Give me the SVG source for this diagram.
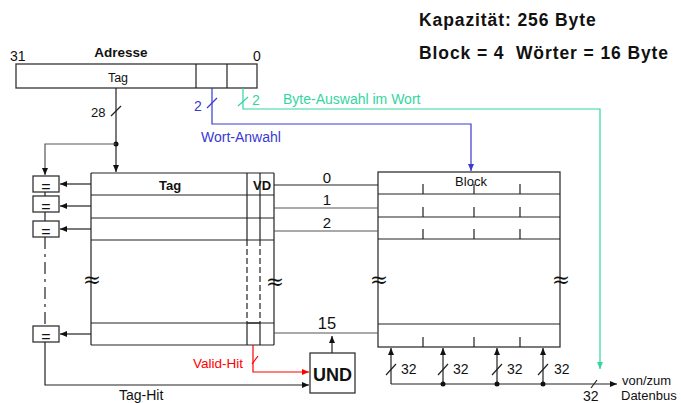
<svg xmlns="http://www.w3.org/2000/svg" width="681" height="403" viewBox="0 0 681 403">
<style>
text{font-family:"Liberation Sans",Arial,sans-serif;fill:#111}
.b{font-weight:bold}
.sym{font-family:"DejaVu Serif",serif;font-size:22px}
.ln{stroke:#222;stroke-width:1.2;fill:none}
.g{stroke:#555;stroke-width:1.2;fill:none}
.box{stroke:#333;stroke-width:1.3;fill:#fff}
.blue{stroke:#3a3ad0;stroke-width:1.2;fill:none}
.green{stroke:#33d6a0;stroke-width:1.2;fill:none}
.red{stroke:#ff0000;stroke-width:1.2;fill:none}
.dash{stroke:#222;stroke-width:1.2;stroke-dasharray:6,3;fill:none}
</style>
<defs>
<marker id="ak" markerUnits="userSpaceOnUse" markerWidth="8" markerHeight="8" refX="7" refY="4" orient="auto"><path d="M0,1 L7,4 L0,7 Z" fill="#111"/></marker>
<marker id="abl" markerUnits="userSpaceOnUse" markerWidth="8" markerHeight="8" refX="7" refY="4" orient="auto"><path d="M0,1 L7,4 L0,7 Z" fill="#3a3ad0"/></marker>
<marker id="agr" markerUnits="userSpaceOnUse" markerWidth="8" markerHeight="8" refX="7" refY="4" orient="auto"><path d="M0,1 L7,4 L0,7 Z" fill="#33d6a0"/></marker>
<marker id="ard" markerUnits="userSpaceOnUse" markerWidth="8" markerHeight="8" refX="7" refY="4" orient="auto"><path d="M0,1 L7,4 L0,7 Z" fill="#ff0000"/></marker>
</defs>

<g id="title">
<text class="b" x="419" y="26" font-size="17.5" letter-spacing="0.9">Kapazität: 256 Byte</text>
<text class="b" x="419" y="59" font-size="17.5" letter-spacing="0.9" xml:space="preserve">Block = 4  Wörter = 16 Byte</text>
</g>

<g id="address">
<rect class="box" x="16" y="64" width="241" height="24"/>
<line class="ln" x1="196" y1="64" x2="196" y2="88"/>
<line class="ln" x1="227" y1="64" x2="227" y2="88"/>
<text x="10" y="61" font-size="14">31</text>
<text class="b" x="121" y="57" font-size="13.5" text-anchor="middle">Adresse</text>
<text x="253" y="61" font-size="14">0</text>
<text x="118" y="82" font-size="12.5" text-anchor="middle">Tag</text>
</g>

<g id="tag-array">
<rect x="91" y="173" width="183" height="172" fill="#fff" stroke="none"/>
<line class="ln" x1="91" y1="173" x2="274" y2="173"/>
<line class="ln" x1="91" y1="173" x2="91" y2="345"/>
<line class="ln" x1="274" y1="173" x2="274" y2="345"/>
<line class="ln" x1="91" y1="345" x2="274" y2="345"/>
<line class="ln" x1="91" y1="195" x2="274" y2="195" stroke-width="1.6"/>
<line class="ln" x1="91" y1="218" x2="274" y2="218"/>
<line class="ln" x1="91" y1="240" x2="274" y2="240"/>
<line class="ln" x1="91" y1="323" x2="274" y2="323"/>
<line class="ln" x1="247" y1="173" x2="247" y2="240"/>
<line class="ln" x1="260" y1="173" x2="260" y2="240"/>
<line class="dash" x1="247" y1="240" x2="247" y2="323"/>
<line class="dash" x1="260" y1="240" x2="260" y2="323"/>
<line class="ln" x1="247" y1="323" x2="247" y2="345"/>
<line class="ln" x1="260" y1="323" x2="260" y2="345"/>
<line class="ln" x1="247" y1="323" x2="260" y2="323" stroke-width="2"/>
<text class="b" x="170" y="190" font-size="13" text-anchor="middle">Tag</text>
<text class="b" x="253" y="190" font-size="13">VD</text>
<text class="sym" x="92" y="287" text-anchor="middle">≈</text>
<text class="sym" x="275" y="289" text-anchor="middle">≈</text>
</g>

<g id="block-array">
<rect class="box" x="378" y="172" width="182" height="175" fill="#fff"/>
<line class="ln" x1="378" y1="194" x2="560" y2="194"/>
<line class="ln" x1="378" y1="217" x2="560" y2="217" stroke-width="1.8"/>
<line class="ln" x1="378" y1="239" x2="560" y2="239"/>
<line class="ln" x1="378" y1="324" x2="560" y2="324"/>
<path class="ln" d="M423,184V194M474,184V194M520,184V194M423,207V217M474,207V217M520,207V217M423,229V239M474,229V239M520,229V239M423,337V347M474,337V347M520,337V347"/>
<text x="471" y="186" font-size="13" text-anchor="middle">Block</text>
<text class="sym" x="379" y="287" text-anchor="middle">≈</text>
<text class="sym" x="561" y="287" text-anchor="middle">≈</text>
</g>

<g id="comparators">
<rect class="box" x="33" y="176" width="26" height="16"/>
<rect class="box" x="33" y="196" width="26" height="16"/>
<rect class="box" x="33" y="221" width="26" height="16"/>
<rect class="box" x="33" y="326" width="26" height="16"/>
<text x="46" y="192" font-size="16" text-anchor="middle">=</text>
<text x="46" y="212" font-size="16" text-anchor="middle">=</text>
<text x="46" y="237" font-size="16" text-anchor="middle">=</text>
<text x="46" y="342" font-size="16" text-anchor="middle">=</text>
</g>

<g id="und">
<rect class="box" x="310" y="353" width="45" height="40"/>
<text class="b" x="332.5" y="381" font-size="18" text-anchor="middle">UND</text>
</g>

<g id="connectors">
<line class="ln" x1="116" y1="88" x2="116" y2="172" marker-end="url(#ak)"/>
<line class="ln" x1="111" y1="116" x2="121" y2="106"/>
<text x="91" y="117" font-size="13">28</text>
<circle cx="116" cy="144" r="2.5" fill="#111"/>
<path class="g" d="M116,144 H45 V175" marker-end="url(#ak)"/>
<line class="ln" x1="45" y1="192" x2="45" y2="196"/>
<line class="ln" x1="45" y1="212" x2="45" y2="221"/>
<line class="ln" x1="45" y1="237" x2="45" y2="326" stroke-dasharray="12,5,3,5"/>
<line class="ln" x1="91" y1="184" x2="60" y2="184" marker-end="url(#ak)"/>
<line class="ln" x1="91" y1="206" x2="60" y2="206" marker-end="url(#ak)"/>
<line class="ln" x1="91" y1="229" x2="60" y2="229" marker-end="url(#ak)"/>
<line class="ln" x1="91" y1="334" x2="60" y2="334" marker-end="url(#ak)"/>
<path class="ln" d="M45,342 V385 H309" marker-end="url(#ak)"/>
<text x="119" y="400" font-size="14">Tag-Hit</text>

<path class="blue" d="M212,88 V124 H471 V171" marker-end="url(#abl)"/>
<line class="blue" x1="207" y1="108" x2="217" y2="98"/>
<text x="194" y="111" font-size="14" style="fill:#3a3ad0">2</text>
<text x="201" y="142" font-size="14" style="fill:#3a3ad0">Wort-Anwahl</text>

<path class="green" d="M243,88 V109 H600 V369" marker-end="url(#agr)"/>
<line class="green" x1="238" y1="106" x2="248" y2="97"/>
<text x="252" y="105" font-size="14" style="fill:#33d6a0">2</text>
<text x="283" y="104" font-size="14" style="fill:#33d6a0">Byte-Auswahl im Wort</text>

<path class="red" d="M253,345 V372 H309" marker-end="url(#ard)"/>
<line class="red" x1="252" y1="364" x2="258" y2="356"/>
<text x="193" y="368" font-size="13.5" style="fill:#ff0000">Valid-Hit</text>

<line class="ln" x1="332" y1="353" x2="332" y2="336" marker-end="url(#ak)"/>

<line class="ln" x1="274" y1="185" x2="378" y2="185"/>
<line class="g" x1="274" y1="208" x2="378" y2="208"/>
<line class="g" x1="274" y1="231" x2="378" y2="231"/>
<line class="g" x1="274" y1="333" x2="378" y2="333"/>
<text x="327" y="183" font-size="15" text-anchor="middle">0</text>
<text x="327" y="205" font-size="15" text-anchor="middle">1</text>
<text x="327" y="228" font-size="15" text-anchor="middle">2</text>
<text x="327" y="329" font-size="16.5" text-anchor="middle">15</text>

<path class="ln" d="M391,384 H617" marker-end="url(#ak)"/>
<line class="ln" x1="391" y1="384" x2="391" y2="348" marker-end="url(#ak)"/>
<line class="ln" x1="443" y1="384" x2="443" y2="348" marker-end="url(#ak)"/>
<line class="ln" x1="497" y1="384" x2="497" y2="348" marker-end="url(#ak)"/>
<line class="ln" x1="543" y1="384" x2="543" y2="348" marker-end="url(#ak)"/>
<circle cx="443" cy="384" r="2.5" fill="#111"/>
<circle cx="497" cy="384" r="2.5" fill="#111"/>
<circle cx="543" cy="384" r="2.5" fill="#111"/>
<path class="ln" d="M386,375 L396,364 M438,375 L448,364 M492,375 L502,364 M538,375 L548,364 M591,388 L597,380"/>
<text x="401" y="374" font-size="14">32</text>
<text x="453" y="374" font-size="14">32</text>
<text x="507" y="374" font-size="14">32</text>
<text x="554" y="374" font-size="14">32</text>
<text x="583" y="401" font-size="14">32</text>
<text x="622" y="385" font-size="13">von/zum</text>
<text x="621" y="400" font-size="13">Datenbus</text>
</g>
</svg>
